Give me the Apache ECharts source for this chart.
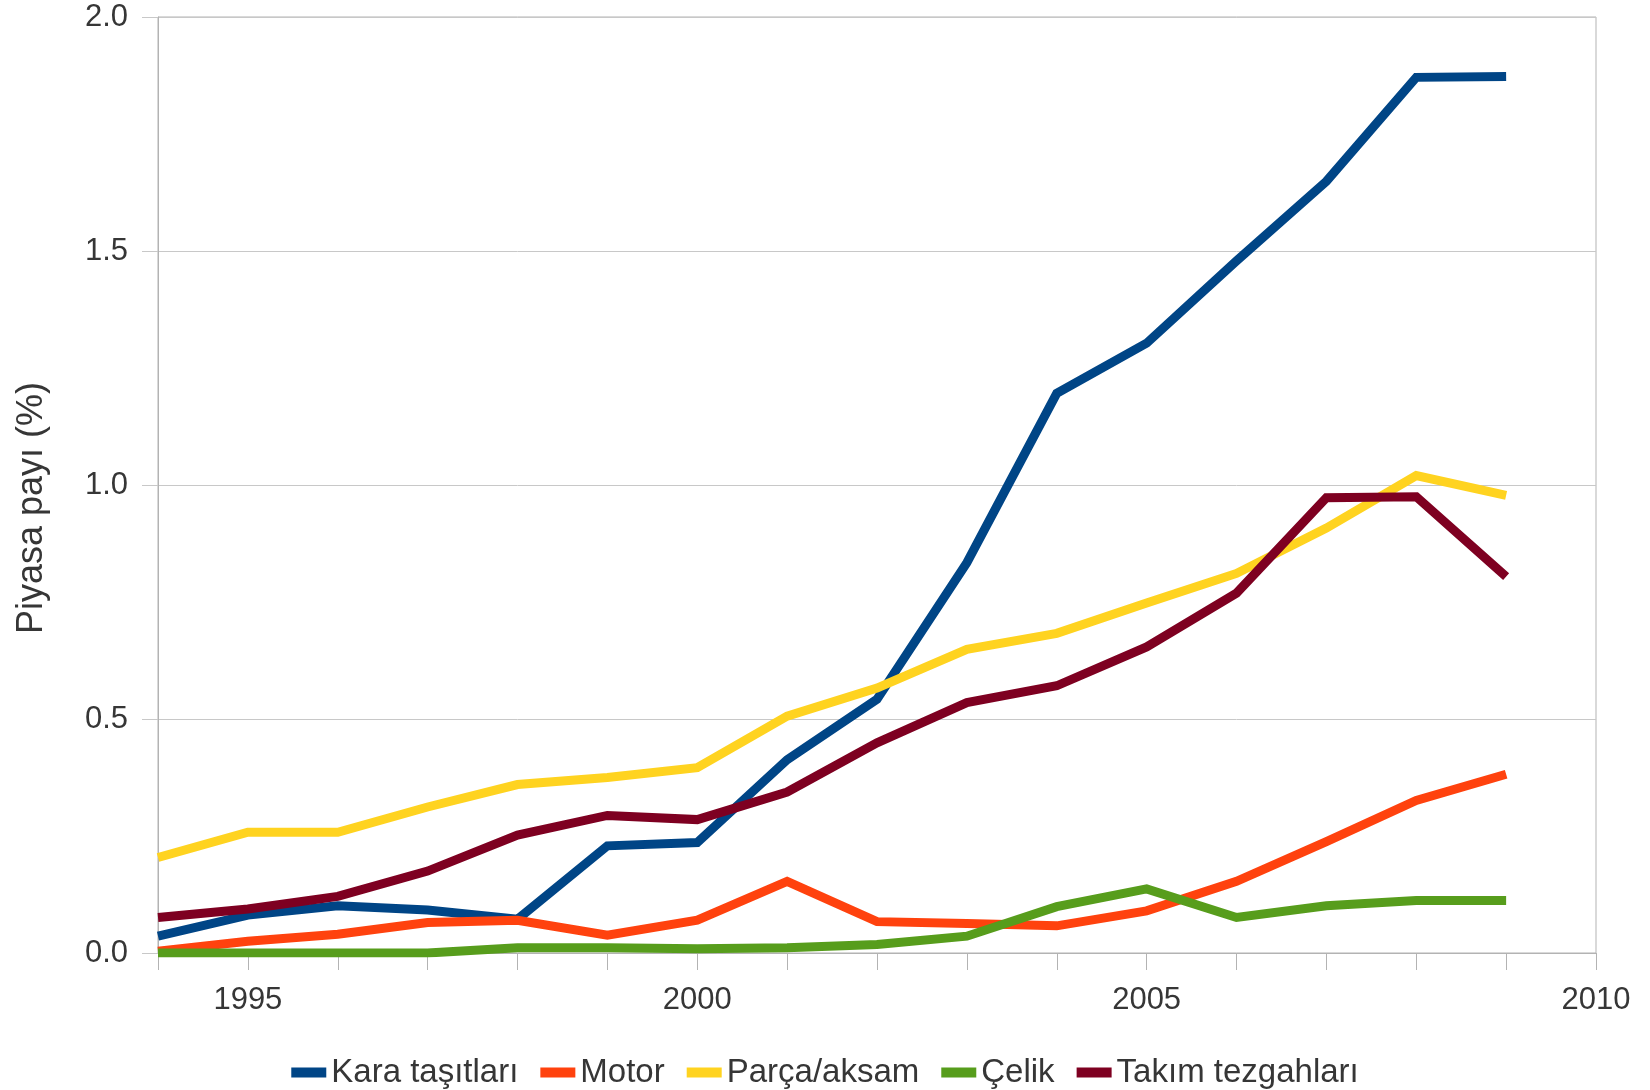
<!DOCTYPE html>
<html>
<head>
<meta charset="utf-8">
<script src="https://cdn.jsdelivr.net/npm/echarts@6/dist/echarts.min.js"></script>
<style>
  html, body { margin: 0; padding: 0; background: #fff; }
  #chart { width: 1650px; height: 1090px; }
</style>
</head>
<body>
<div id="chart"></div>
<script>
const years = [1994, 1995, 1996, 1997, 1998, 1999, 2000, 2001, 2002, 2003, 2004, 2005, 2006, 2007, 2008, 2009]
const karaTasitlari = [0.036, 0.081, 0.101, 0.092, 0.072, 0.229, 0.236, 0.413, 0.542, 0.834, 1.196, 1.303, 1.479, 1.649, 1.871, 1.873]
const motor = [0.004, 0.025, 0.040, 0.065, 0.070, 0.038, 0.070, 0.153, 0.067, 0.063, 0.058, 0.090, 0.153, 0.238, 0.326, 0.382]
const parcaAksam = [0.204, 0.258, 0.258, 0.312, 0.360, 0.375, 0.396, 0.506, 0.566, 0.649, 0.683, 0.748, 0.811, 0.908, 1.020, 0.978]
const celik = [0.0, 0.0, 0.0, 0.0, 0.011, 0.011, 0.009, 0.011, 0.018, 0.036, 0.099, 0.137, 0.076, 0.101, 0.112, 0.112]
const takimTezgahlari = [0.076, 0.094, 0.121, 0.175, 0.252, 0.294, 0.285, 0.344, 0.449, 0.535, 0.571, 0.654, 0.769, 0.973, 0.975, 0.804]

const seriesNames = ['Kara taşıtları', 'Motor', 'Parça/aksam', 'Çelik', 'Takım tezgahları']
const seriesValues = [karaTasitlari, motor, parcaAksam, celik, takimTezgahlari]
const colors = ['#004586', '#ff420e', '#ffd320', '#579d1c', '#7e0021']

const textColor = '#363636'
const font = 'Liberation Sans'

const chart = echarts.init(document.getElementById('chart'))
chart.setOption({
    animation: false,
    color: colors,
    textStyle: { fontFamily: font },
    grid: {
        left: 158,
        right: 54,
        top: 17,
        bottom: 137,
        show: true,
        borderColor: '#b3b3b3',
        borderWidth: 1
    },
    legend: {
        top: 1051,
        left: 'center',
        itemWidth: 35,
        itemHeight: 10,
        itemGap: 22,
        icon: 'rect',
        textStyle: { fontSize: 33, color: textColor, fontFamily: font },
        data: seriesNames
    },
    xAxis: {
        type: 'value',
        min: 1994,
        max: 2010,
        interval: 1,
        axisLine: { show: true, lineStyle: { color: '#b3b3b3' } },
        axisTick: { show: true, length: 17, lineStyle: { color: '#b3b3b3' } },
        splitLine: { show: false },
        axisLabel: {
            margin: 32,
            fontSize: 31,
            color: textColor,
            fontFamily: font,
            showMinLabel: true,
            showMaxLabel: true,
            formatter: function (v) {
                return v % 5 === 0 ? String(v) : ''
            }
        }
    },
    yAxis: {
        type: 'value',
        min: 0,
        max: 2,
        interval: 0.5,
        name: 'Piyasa payı (%)',
        nameLocation: 'middle',
        nameGap: 108,
        nameTextStyle: { fontSize: 36, color: textColor, fontFamily: font, padding: [0, 46, 0, 0] },
        axisLine: { show: true, lineStyle: { color: '#b3b3b3' } },
        axisTick: { show: true, length: 16, lineStyle: { color: '#c8c8c8' } },
        splitLine: { show: true, lineStyle: { color: '#c8c8c8', width: 1 } },
        axisLabel: {
            margin: 30,
            fontSize: 31,
            color: textColor,
            fontFamily: font,
            formatter: function (v) { return v.toFixed(1) }
        }
    },
    series: seriesNames.map((name, i) => ({
        name: name,
        type: 'line',
        showSymbol: false,
        symbol: 'none',
        data: years.map((y, j) => [y, seriesValues[i][j]]),
        lineStyle: { width: 9, color: colors[i], join: 'miter' },
        itemStyle: { color: colors[i] }
    }))
})
</script>
</body>
</html>
